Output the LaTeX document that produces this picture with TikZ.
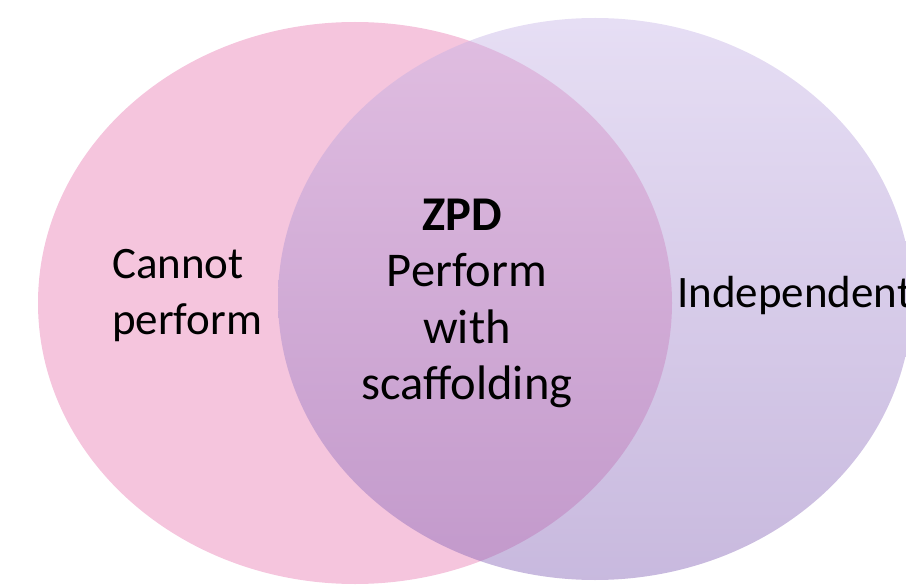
\documentclass[tikz,border=0pt]{standalone}
\usepackage{fontspec}
\setmainfont{Carlito}

\definecolor{cannotpink}{RGB}{245,197,221}
\definecolor{indeptop}{RGB}{200,182,231}
\definecolor{indepbottom}{RGB}{133,100,182}

\begin{document}
\begin{tikzpicture}[x=1bp, y=-1bp, every node/.style={inner sep=0pt, font=\fontsize{45bp}{56bp}\selectfont}]
        \useasboundingbox (0,0) rectangle (906,588);
        \clip (0,0) rectangle (906,588);

        % --- Draw the two overlapping regions ---
        \fill[cannotpink] (355,303) ellipse [x radius=317, y radius=281];
        \shade[top color=indeptop, bottom color=indepbottom, fill opacity=0.45] (595,299) ellipse [x radius=317, y radius=281];
        % ---

        % --- Labels ---
        \node[anchor=west, align=left] (cannot) at (112,296) {Cannot\\perform};
        \node[font=\fontsize{48.5bp}{56.5bp}\selectfont] (zpd) at (462,215) {\textbf{ZPD}};
        \node[align=center, font=\fontsize{48.5bp}{56.5bp}\selectfont] (scaffold) at (467,331) {Perform\\with\\scaffolding};
        \node[anchor=west] (indep) at (677,296) {Independent};
        % ---
    \end{tikzpicture}
\end{document}
